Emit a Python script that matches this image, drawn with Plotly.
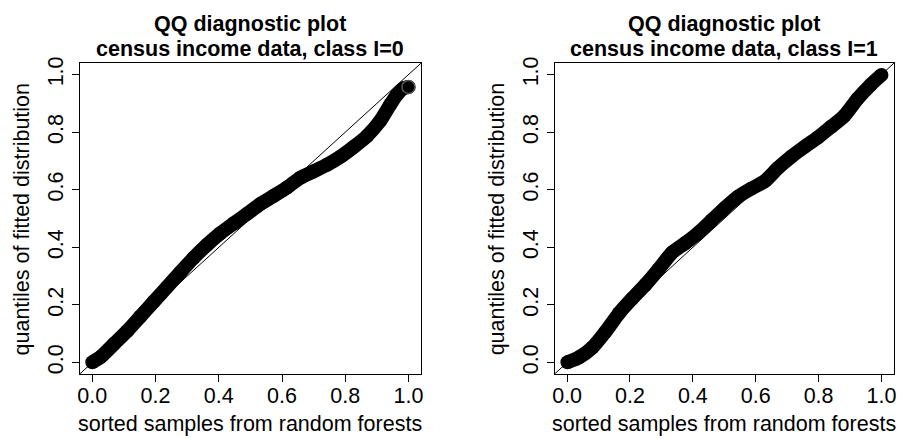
import plotly.graph_objects as go

# ---- data ----
x_class0 = [0.0, 0.025, 0.068, 0.110, 0.152, 0.194, 0.236, 0.278, 0.321, 0.363, 0.405, 0.447,
            0.490, 0.532, 0.574, 0.616, 0.658, 0.700, 0.743, 0.785, 0.827, 0.869, 0.911,
            0.943, 0.964, 0.985, 1.0]
y_class0 = [0.001, 0.018, 0.064, 0.109, 0.160, 0.211, 0.262, 0.313, 0.364, 0.409, 0.449, 0.483,
            0.517, 0.551, 0.579, 0.608, 0.642, 0.664, 0.687, 0.715, 0.749, 0.787, 0.840,
            0.897, 0.931, 0.953, 0.957]

x_class1 = [0.001, 0.038, 0.080, 0.122, 0.165, 0.207, 0.249, 0.291, 0.333, 0.376, 0.418, 0.460,
            0.502, 0.544, 0.586, 0.629, 0.671, 0.713, 0.755, 0.797, 0.840, 0.882, 0.924,
            0.966, 1.0]
y_class1 = [0.001, 0.018, 0.052, 0.107, 0.171, 0.222, 0.270, 0.324, 0.381, 0.415, 0.451, 0.494,
            0.537, 0.576, 0.604, 0.630, 0.676, 0.715, 0.749, 0.781, 0.819, 0.857, 0.916,
            0.965, 0.999]

ref_line = [-0.04, 1.04]
tick_vals = [0.0, 0.2, 0.4, 0.6, 0.8, 1.0]
tick_text = ["0.0", "0.2", "0.4", "0.6", "0.8", "1.0"]
titles = ["QQ diagnostic plot", "census income data, class I=0", "census income data, class I=1"]
xlabel = "sorted samples from random forests"
ylabel = "quantiles of fitted distribution"

W, H = 902, 439
FONT = "Liberation Sans, Arial, sans-serif"

def px(x):
    return x / W

def py(y):
    return 1 - y / H

panels = [(78, 421), (555, 896)]
top, bottom = 57, 373

fig = go.Figure()

data = [(x_class0, y_class0), (x_class1, y_class1)]
for i, (xs, ys) in enumerate(data):
    xa = "x" if i == 0 else "x2"
    ya = "y" if i == 0 else "y2"
    fig.add_trace(go.Scatter(x=ref_line, y=ref_line, mode="lines",
                             line=dict(color="black", width=1),
                             xaxis=xa, yaxis=ya, hoverinfo="skip", showlegend=False))
    fig.add_trace(go.Scatter(x=xs, y=ys, mode="lines+markers",
                             line=dict(color="black", width=14, shape="spline", smoothing=0.6),
                             marker=dict(color="black", size=14),
                             xaxis=xa, yaxis=ya, showlegend=False, cliponaxis=False))
    if i == 0:
        # open circles at the top end
        fig.add_trace(go.Scatter(x=xs[-1:], y=ys[-1:], mode="markers",
                                 marker=dict(color="rgba(0,0,0,0)", size=13,
                                             line=dict(color="#555", width=1.5)),
                                 xaxis=xa, yaxis=ya, showlegend=False, cliponaxis=False))

axis_common = dict(range=[-0.04, 1.04], showgrid=False, zeroline=False,
                   showline=True, mirror=True, linecolor="black", linewidth=1,
                   ticks="outside", ticklen=7, tickcolor="black", tickwidth=1,
                   tickvals=tick_vals, ticktext=tick_text,
                   tickfont=dict(family=FONT, size=21.5, color="black"))

layout = dict(width=W, height=H, margin=dict(l=0, r=0, t=0, b=0),
              paper_bgcolor="white", plot_bgcolor="white", showlegend=False,
              font=dict(family=FONT, color="black"))

yd = [py(bottom), py(top)]
layout["xaxis"] = dict(domain=[px(panels[0][0]), px(panels[0][1])], anchor="y",
                       ticklabelstandoff=-5, **axis_common)
layout["yaxis"] = dict(domain=yd, anchor="x", tickangle=-90, **axis_common)
layout["xaxis2"] = dict(domain=[px(panels[1][0]), px(panels[1][1])], anchor="y2",
                        ticklabelstandoff=-5, **axis_common)
layout["yaxis2"] = dict(domain=yd, anchor="x2", tickangle=-90, **axis_common)

annotations = []
for i, (l, r) in enumerate(panels):
    cx = (l + r) / 2
    annotations.append(dict(text="<b>%s</b>" % titles[0], x=px(cx), y=py(17), xref="paper", yref="paper",
                            showarrow=False, xanchor="center", yanchor="middle",
                            font=dict(family=FONT, size=21.5, color="black")))
    annotations.append(dict(text="<b>%s</b>" % titles[1 + i], x=px(cx), y=py(43), xref="paper", yref="paper",
                            showarrow=False, xanchor="center", yanchor="middle",
                            font=dict(family=FONT, size=21.5, color="black")))
    annotations.append(dict(text=xlabel, x=px(cx), y=py(424), xref="paper", yref="paper",
                            showarrow=False, xanchor="center", yanchor="middle",
                            font=dict(family=FONT, size=21.5, color="black")))
    annotations.append(dict(text=ylabel, x=px(l - 58), y=py((top + bottom) / 2), xref="paper", yref="paper",
                            showarrow=False, xanchor="center", yanchor="middle", textangle=-90,
                            font=dict(family=FONT, size=21.5, color="black")))
layout["annotations"] = annotations

fig.update_layout(**layout)
fig.write_html("out.html")
